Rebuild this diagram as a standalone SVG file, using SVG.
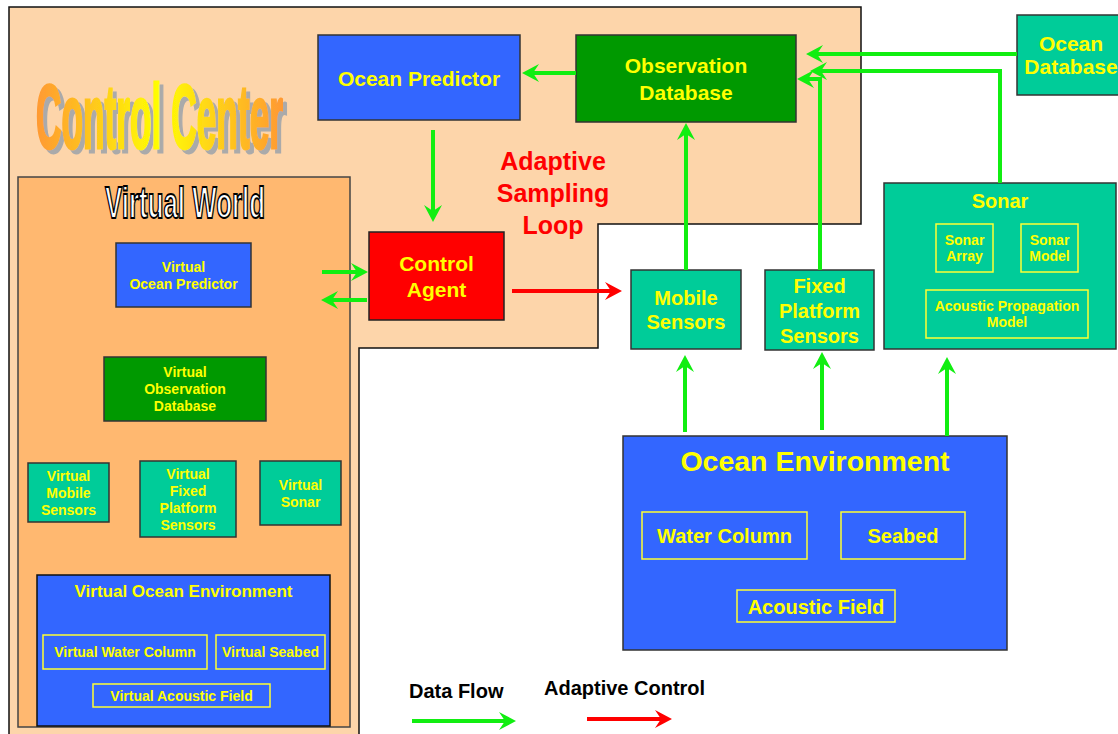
<svg xmlns="http://www.w3.org/2000/svg" width="1118" height="734" viewBox="0 0 1118 734">
<style>
.box{stroke:#333;stroke-width:1.5}
.blue{fill:#3366FF}.dgreen{fill:#009900}.teal{fill:#00CC99}.red{fill:#FF0000}
.inner{fill:none;stroke:#FFFF33;stroke-width:1.5}
.t{font-family:"Liberation Sans",Arial,sans-serif;font-weight:bold;fill:#FFFF00;text-anchor:middle}
.t21{font-size:21px}.t20{font-size:20px}.t14{font-size:14px}.t17{font-size:17px}
.flow{fill:none;stroke:#11EE11;stroke-width:4}
.ctrl{fill:none;stroke:#FF0000;stroke-width:4}
.leg{font-family:"Liberation Sans",Arial,sans-serif;font-weight:bold;font-size:20px;fill:#000}
.title{font-family:"Liberation Sans Narrow","Liberation Sans",sans-serif;font-weight:bold}
</style>
<defs>
<marker id="ag" markerUnits="userSpaceOnUse" markerWidth="20" markerHeight="20" viewBox="-7 -10 20 20" refX="0" refY="0" orient="auto"><path d="M11,0 L-6,-9 L0,0 L-6,9 Z" fill="#11EE11"/></marker>
<marker id="ar" markerUnits="userSpaceOnUse" markerWidth="20" markerHeight="20" viewBox="-7 -10 20 20" refX="0" refY="0" orient="auto"><path d="M11,0 L-6,-9 L0,0 L-6,9 Z" fill="#FF0000"/></marker>
<linearGradient id="cc" x1="0" y1="0" x2="494" y2="0" gradientUnits="userSpaceOnUse">
<stop offset="0" stop-color="#FF9933"/><stop offset="0.5" stop-color="#FFFF00"/><stop offset="1" stop-color="#FF9933"/>
</linearGradient>
<filter id="sh" x="-10%" y="-20%" width="130%" height="150%">
<feFlood flood-color="#AAAAAA"/><feComposite in2="SourceAlpha" operator="in"/><feOffset dx="8" dy="4"/>
<feMerge><feMergeNode/><feMergeNode in="SourceGraphic"/></feMerge>
</filter>
</defs>
<rect width="1118" height="734" fill="#FFFFFF"/>
<g id="control-center">
<path d="M9,7 H861 V224 H598 V348 H359 V740 H9 Z" fill="#FDD5AA" stroke="#111" stroke-width="1.5"/>
<text class="title" transform="translate(36,148) scale(0.5,1)" x="0" y="0" font-size="90" fill="url(#cc)" stroke="url(#cc)" stroke-width="3" textLength="494" lengthAdjust="spacingAndGlyphs" filter="url(#sh)">Control Center</text>
</g>
<g id="virtual-world">
<rect x="18" y="177" width="332" height="550" fill="#FFB870" stroke="#444" stroke-width="1.5"/>
<text class="title" transform="translate(105,218) scale(0.5,1)" x="0" y="0" font-size="45" fill="#FFFFFF" stroke="#000" stroke-width="2" textLength="320" lengthAdjust="spacingAndGlyphs">Virtual World</text>
</g>
<g id="ocean-predictor"><rect class="box blue" x="318" y="35" width="202" height="85"/><text class="t t21" x="419" y="86">Ocean Predictor</text></g>
<g id="observation-database"><rect class="box dgreen" x="576" y="35" width="220" height="87"/><text class="t t21" x="686" y="73">Observation</text><text class="t t21" x="686" y="100">Database</text></g>
<g id="ocean-database"><rect class="box teal" x="1017" y="15" width="110" height="80"/><text class="t t21" x="1071" y="51">Ocean</text><text class="t t21" x="1071" y="74">Database</text></g>
<g id="sonar"><rect class="box teal" x="884" y="183" width="232" height="166"/><text class="t t20" x="1000" y="208">Sonar</text>
<rect class="inner" x="936" y="224" width="57" height="48"/><text class="t t14" x="964.5" y="245">Sonar</text><text class="t t14" x="964.5" y="261">Array</text>
<rect class="inner" x="1021" y="224" width="57" height="48"/><text class="t t14" x="1049.5" y="245">Sonar</text><text class="t t14" x="1049.5" y="261">Model</text>
<rect class="inner" x="926" y="290" width="162" height="48"/><text class="t t14" x="1007" y="311">Acoustic Propagation</text><text class="t t14" x="1007" y="327">Model</text></g>
<g id="control-agent"><rect x="369" y="232" width="135" height="88" fill="#FF0000" stroke="#222" stroke-width="1.5"/><text class="t t21" x="436.5" y="271">Control</text><text class="t t21" x="436.5" y="297">Agent</text></g>
<g id="mobile-sensors"><rect class="box teal" x="631" y="270" width="110" height="79"/><text class="t t20" x="686" y="305">Mobile</text><text class="t t20" x="686" y="329">Sensors</text></g>
<g id="fixed-platform-sensors"><rect class="box teal" x="765" y="270" width="109" height="80"/><text class="t t20" x="819.5" y="293">Fixed</text><text class="t t20" x="819.5" y="318">Platform</text><text class="t t20" x="819.5" y="343">Sensors</text></g>
<g id="ocean-environment"><rect class="box blue" x="623" y="436" width="384" height="214"/><text class="t" font-size="28.5" x="815" y="471">Ocean Environment</text>
<rect class="inner" x="642" y="512" width="165" height="47"/><text class="t t20" x="724.5" y="543">Water Column</text>
<rect class="inner" x="841" y="512" width="124" height="47"/><text class="t t20" x="903" y="543">Seabed</text>
<rect class="inner" x="737" y="590" width="158" height="32"/><text class="t t20" x="816" y="614">Acoustic Field</text></g>
<g id="virtual-ocean-predictor"><rect class="box blue" x="116" y="243" width="135" height="64"/><text class="t t14" x="183.5" y="272">Virtual</text><text class="t t14" x="183.5" y="289">Ocean Predictor</text></g>
<g id="virtual-observation-database"><rect class="box dgreen" x="104" y="357" width="162" height="64"/><text class="t t14" x="185" y="377">Virtual</text><text class="t t14" x="185" y="394">Observation</text><text class="t t14" x="185" y="411">Database</text></g>
<g id="virtual-mobile-sensors"><rect class="box teal" x="28" y="463" width="81" height="59"/><text class="t t14" x="68.5" y="481">Virtual</text><text class="t t14" x="68.5" y="498">Mobile</text><text class="t t14" x="68.5" y="515">Sensors</text></g>
<g id="virtual-fixed-platform-sensors"><rect class="box teal" x="140" y="461" width="96" height="76"/><text class="t t14" x="188" y="479">Virtual</text><text class="t t14" x="188" y="496">Fixed</text><text class="t t14" x="188" y="513">Platform</text><text class="t t14" x="188" y="530">Sensors</text></g>
<g id="virtual-sonar"><rect class="box teal" x="260" y="461" width="81" height="64"/><text class="t t14" x="300.5" y="490">Virtual</text><text class="t t14" x="300.5" y="507">Sonar</text></g>
<g id="virtual-ocean-environment"><rect x="37" y="575" width="293" height="151" fill="#3366FF" stroke="#111" stroke-width="1.5"/><text class="t t17" x="183.5" y="597">Virtual Ocean Environment</text>
<rect class="inner" x="43" y="635" width="164" height="34"/><text class="t t14" x="125" y="657">Virtual Water Column</text>
<rect class="inner" x="216" y="635" width="109" height="34"/><text class="t t14" x="270.5" y="657">Virtual Seabed</text>
<rect class="inner" x="93" y="684" width="177" height="23"/><text class="t t14" x="181.5" y="701">Virtual Acoustic Field</text></g>
<g id="loop-label"><text font-family="'Liberation Sans',Arial,sans-serif" font-weight="bold" font-size="25" fill="#FF0000" text-anchor="middle"><tspan x="553" y="170">Adaptive</tspan><tspan x="553" y="202">Sampling</tspan><tspan x="553" y="234">Loop</tspan></text></g>
<g id="connectors">
<path class="flow" d="M576,73 H533" marker-end="url(#ag)"/>
<path class="flow" d="M433,130 V211" marker-end="url(#ag)"/>
<path class="flow" d="M1017,54 H817" marker-end="url(#ag)"/>
<path class="flow" d="M1000,183 V71 H821" marker-end="url(#ag)"/>
<path class="flow" d="M820,270 V79 H808" marker-end="url(#ag)"/>
<path class="flow" d="M686,270 V134" marker-end="url(#ag)"/>
<path class="flow" d="M322,272 H357" marker-end="url(#ag)"/>
<path class="flow" d="M367,300 H332" marker-end="url(#ag)"/>
<path class="flow" d="M685,432 V366" marker-end="url(#ag)"/>
<path class="flow" d="M822,430 V363" marker-end="url(#ag)"/>
<path class="flow" d="M947,436 V368" marker-end="url(#ag)"/>
<path class="ctrl" d="M512,291 H611" marker-end="url(#ar)"/>
</g>
<g id="legend">
<text class="leg" x="409" y="698">Data Flow</text>
<text class="leg" x="544" y="695">Adaptive Control</text>
<path class="flow" d="M412,721 H505" marker-end="url(#ag)"/>
<path class="ctrl" d="M587,719 H661" marker-end="url(#ar)"/>
</g>
</svg>
